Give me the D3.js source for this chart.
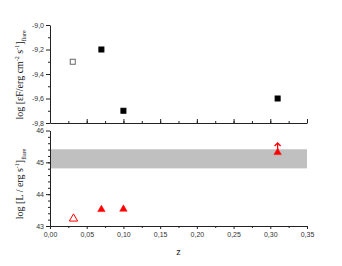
<!DOCTYPE html>
<html>
<head>
<meta charset="utf-8">
<script src="https://cdn.jsdelivr.net/npm/d3@7"></script>
<style>
  body { margin: 0; background: #fff; }
  text { font-family: "Liberation Sans", Arial, sans-serif; }
</style>
</head>
<body>
<div id="container"></div>
<script>
/* CONSTANTS AND GLOBALS */
const width = 342, height = 266;

// top panel: flare fluence
const zFlux = [0.031, 0.07, 0.10, 0.31];
const logFlux = [-9.3, -9.2, -9.7, -9.6];
const fluxOpen = [true, false, false, false];

// bottom panel: flare luminosity
const zLum = [0.032, 0.07, 0.10, 0.31];
const logLum = [43.23, 43.52, 43.53, 45.31];
const lumOpen = [true, false, false, false];
const lumLowerLimit = [false, false, false, true];
const band = [44.81, 45.41];

const xTicks = [0, 0.05, 0.10, 0.15, 0.20, 0.25, 0.30, 0.35];
const fluxTicks = [-9.8, -9.6, -9.4, -9.2, -9.0];
const lumTicks = [43, 44, 45, 46];

const comma = f => v => d3.format(f)(v).replace(".", ",").replace("−", "-");

const svg = d3.select("#container").append("svg")
  .attr("width", width).attr("height", height);

const x = d3.scaleLinear().domain([0, 0.35]).range([50, 307]);
const yTop = d3.scaleLinear().domain([-9.8, -9.0]).range([123, 25]);
const yBot = d3.scaleLinear().domain([43, 46]).range([226, 130.5]);

function styleAxis(g) {
  g.selectAll("path, line").attr("stroke", "#222").attr("stroke-width", 1);
  g.selectAll("text").attr("font-size", 7).attr("fill", "#333")
    .attr("font-family", "Liberation Sans, Arial, sans-serif");
}

/* TOP PANEL */
// minor + major x ticks pointing inward, no labels
svg.append("g").attr("transform", `translate(0,${yTop.range()[0]})`)
  .call(d3.axisTop(x).tickValues(d3.range(0, 0.351, 0.025)).tickSize(2).tickFormat(""))
  .call(g => g.select(".domain").remove())
  .call(styleAxis);
svg.append("g").attr("transform", `translate(0,${yTop.range()[0]})`)
  .call(d3.axisTop(x).tickValues(xTicks).tickSizeInner(4).tickSizeOuter(0).tickFormat(""))
  .call(styleAxis);

svg.append("g").attr("transform", `translate(${x(0)},0)`)
  .call(d3.axisLeft(yTop).tickValues(d3.range(-9.9, -9.0, 0.2)).tickSize(2).tickFormat(""))
  .call(g => g.select(".domain").remove())
  .call(g => g.selectAll(".tick").filter(d => d < -9.8).remove())
  .call(styleAxis);
svg.append("g").attr("transform", `translate(${x(0)},0)`)
  .call(d3.axisLeft(yTop).tickValues(fluxTicks).tickSizeInner(4).tickSizeOuter(0)
    .tickPadding(2).tickFormat(comma(".1f")))
  .call(styleAxis);

const fluxData = zFlux.map((z, i) => ({ z, v: logFlux[i], open: fluxOpen[i] }));
svg.selectAll("rect.flux")
  .data(fluxData)
  .join("rect")
  .attr("class", "flux")
  .attr("x", d => x(d.z) - 2.5)
  .attr("y", d => yTop(d.v) - 2.5)
  .attr("width", 5).attr("height", 5)
  .attr("fill", d => d.open ? "#fff" : "#000")
  .attr("stroke", d => d.open ? "#666" : "#000")
  .attr("stroke-width", 1);

/* BOTTOM PANEL */
svg.append("rect")
  .attr("x", x(0)).attr("width", x(0.35) - x(0))
  .attr("y", yBot(band[1])).attr("height", yBot(band[0]) - yBot(band[1]))
  .attr("fill", "#c0c0c0");

svg.append("g").attr("transform", `translate(0,${yBot.range()[0]})`)
  .call(d3.axisBottom(x).tickValues(d3.range(0.025, 0.35, 0.05)).tickSize(2).tickFormat(""))
  .call(g => g.select(".domain").remove())
  .call(styleAxis);
svg.append("g").attr("transform", `translate(0,${yBot.range()[0]})`)
  .call(d3.axisBottom(x).tickValues(xTicks).tickSizeInner(3).tickSizeOuter(0)
    .tickPadding(3).tickFormat(comma(".2f")))
  .call(styleAxis);

svg.append("g").attr("transform", `translate(${x(0)},0)`)
  .call(d3.axisLeft(yBot).tickValues(d3.range(43.2, 46, 0.2)).tickSize(2).tickFormat(""))
  .call(g => g.select(".domain").remove())
  .call(styleAxis);
svg.append("g").attr("transform", `translate(${x(0)},0)`)
  .call(d3.axisLeft(yBot).tickValues(lumTicks).tickSizeInner(4).tickSizeOuter(0)
    .tickPadding(2).tickFormat(d3.format("d")))
  .call(styleAxis);

const lumData = zLum.map((z, i) => ({ z, v: logLum[i], open: lumOpen[i], limit: lumLowerLimit[i] }));

// lower limit arrows
const arrows = svg.selectAll("g.limit")
  .data(lumData.filter(d => d.limit))
  .join("g")
  .attr("class", "limit")
  .attr("transform", d => `translate(${x(d.z)},${yBot(d.v)})`);
arrows.append("line")
  .attr("x1", 0).attr("x2", 0).attr("y1", 0).attr("y2", -9)
  .attr("stroke", "#f00").attr("stroke-width", 1.3);
arrows.append("path")
  .attr("d", "M-3,-6.5L0,-9.5L3,-6.5")
  .attr("fill", "none").attr("stroke", "#f00").attr("stroke-width", 1.3);

svg.selectAll("path.lum")
  .data(lumData)
  .join("path")
  .attr("class", "lum")
  .attr("transform", d => `translate(${x(d.z)},${yBot(d.v)})`)
  .attr("d", d => d3.symbol(d3.symbolTriangle, d.open ? 30 : 24)())
  .attr("fill", d => d.open ? "#fff" : "#f00")
  .attr("stroke", "#f00")
  .attr("stroke-width", d => d.open ? 1 : 0.5);

/* LABELS */
svg.append("text")
  .attr("x", (x(0) + x(0.35)) / 2).attr("y", 255)
  .attr("text-anchor", "middle").attr("font-size", 9).attr("fill", "#222")
  .text("z");

function yLabel(cx, cy, parts) {
  const t = svg.append("text")
    .attr("transform", `translate(${cx},${cy}) rotate(-90)`)
    .attr("text-anchor", "middle")
    .attr("font-size", 10).attr("fill", "#111")
    .style("font-family", "'Liberation Serif', 'Times New Roman', serif");
  let shift = 0;
  parts.forEach(([s, kind]) => {
    const target = kind === "sup" ? -4 : kind === "sub" ? 3 : 0;
    t.append("tspan")
      .attr("dy", target - shift)
      .attr("font-size", kind ? 6 : 10)
      .text(s);
    shift = target;
  });
}

yLabel(23, 75, [["log [εF/erg cm"], ["-2", "sup"], [" s"], ["-1", "sup"], ["]"], ["flare", "sub"]]);
yLabel(23, 184, [["log [L / erg s"], ["-1", "sup"], ["]"], ["flare", "sub"]]);
</script>
</body>
</html>
